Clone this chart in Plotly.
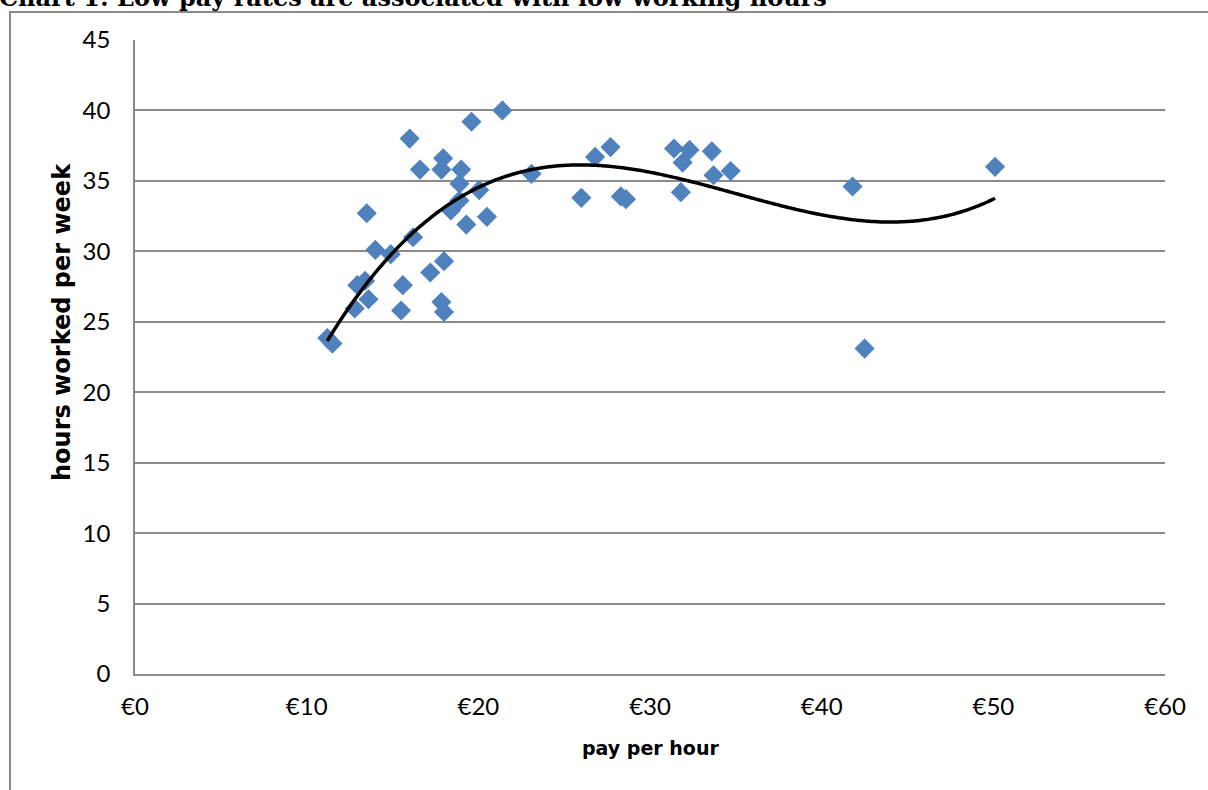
import numpy as np
import plotly.graph_objects as go

# pay per hour (EUR) and hours worked per week
pay = [11.2, 11.5, 12.8, 12.95, 13.4, 13.6, 13.5, 14.0, 14.9, 15.6, 15.5,
       16.0, 16.2, 16.6, 17.2, 17.85, 18.0, 18.0, 17.95, 17.85, 18.4, 18.9,
       19.0, 18.9, 19.3, 19.6, 20.05, 20.5, 21.4, 23.1, 26.0, 26.8, 27.7,
       28.3, 28.6, 31.4, 31.9, 32.3, 31.8, 33.6, 33.7, 34.7, 41.8, 42.5, 50.1]
hours = [23.85, 23.45, 25.95, 27.6, 27.9, 26.6, 32.7, 30.1, 29.8, 27.6, 25.8,
         38.0, 31.0, 35.8, 28.5, 26.4, 25.7, 29.3, 36.6, 35.8, 32.9, 34.8,
         35.8, 33.6, 31.9, 39.2, 34.35, 32.45, 40.0, 35.5, 33.8, 36.7, 37.4,
         33.9, 33.7, 37.3, 36.3, 37.2, 34.2, 37.1, 35.4, 35.7, 34.6, 23.1, 36.0]

x_ticks = [0, 10, 20, 30, 40, 50, 60]
x_labels = ["€0", "€10", "€20", "€30", "€40", "€50", "€60"]
y_ticks = [0, 5, 10, 15, 20, 25, 30, 35, 40, 45]

title_text = "Chart 1: Low pay rates are associated with low working hours"
x_title = "pay per hour"
y_title = "hours worked per week"

# cubic trendline (as Excel polynomial order 3)
coef = np.polyfit(pay, hours, 3)
tx = np.linspace(min(pay), max(pay), 200)
ty = np.polyval(coef, tx)

W, H = 1208, 790
L, R, T, B = 135, 43, 40, 116
pw, ph = W - L - R, H - T - B

def px(xp):
    return (xp - L) / pw

def py(yp):
    return (H - B - yp) / ph

tick_font = dict(family="Lato, sans-serif", size=24, color="#000000")
grid_col = "#8a8a8a"

fig = go.Figure()
fig.add_trace(go.Scatter(
    x=pay, y=hours, mode="markers",
    marker=dict(symbol="diamond", size=15.5, color="#4F81BD",
                line=dict(width=0)),
    showlegend=False, hoverinfo="x+y"))
fig.add_trace(go.Scatter(
    x=tx, y=ty, mode="lines",
    line=dict(color="#000000", width=3.5, shape="spline"),
    showlegend=False, hoverinfo="skip"))

fig.update_layout(
    width=W, height=H,
    margin=dict(l=L, r=R, t=T, b=B, autoexpand=False),
    paper_bgcolor="#ffffff", plot_bgcolor="#ffffff",
    xaxis=dict(range=[0, 60], tickvals=x_ticks, ticktext=x_labels,
               showgrid=False, zeroline=False, showline=True,
               linecolor=grid_col, linewidth=1.5, ticks="",
               tickfont=tick_font, ticklabelstandoff=10),
    yaxis=dict(range=[0, 45], tickvals=y_ticks, showgrid=True,
               gridcolor=grid_col, gridwidth=1.5, zeroline=False,
               showline=True, linecolor=grid_col, linewidth=1.5, ticks="",
               tickfont=tick_font, ticklabelstandoff=18),
    shapes=[dict(type="rect", xref="paper", yref="paper",
                 x0=px(10), x1=px(1230), y0=py(820), y1=py(12),
                 line=dict(color="#8a8a8a", width=2), layer="below")],
    annotations=[
        dict(text="<b>" + title_text + "</b>", xref="paper", yref="paper",
             x=px(-3), y=py(14), xanchor="left", yanchor="bottom",
             showarrow=False,
             font=dict(family="DejaVu Serif", size=24, color="#000000")),
        dict(text="<b>" + x_title + "</b>", xref="paper", yref="paper",
             x=0.5, y=py(748), xanchor="center", yanchor="middle",
             showarrow=False,
             font=dict(family="DejaVu Sans", size=19, color="#000000")),
        dict(text="<b>" + y_title + "</b>", xref="paper", yref="paper",
             x=px(62), y=py(322), xanchor="center", yanchor="middle",
             textangle=-90, showarrow=False,
             font=dict(family="DejaVu Sans", size=24, color="#000000")),
    ],
)

fig.write_html(
    "out.html",
    config={"displayModeBar": False},
    post_script="document.body.style.margin='0px';"
                "document.documentElement.style.overflow='hidden';"
                "document.body.style.overflow='hidden';")
